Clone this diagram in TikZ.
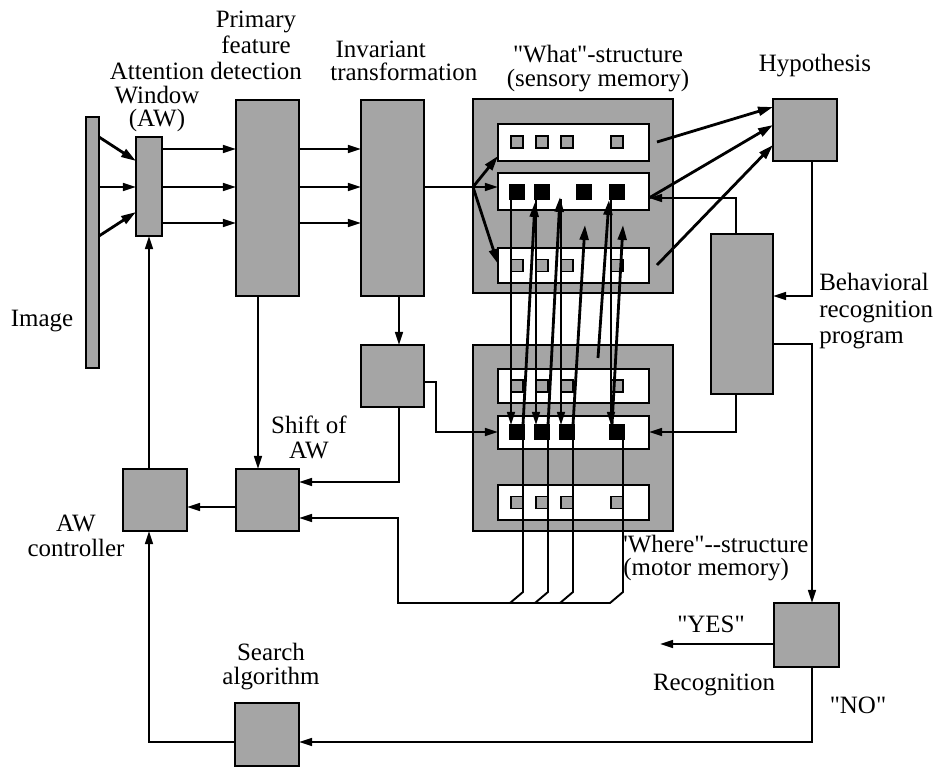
\documentclass[tikz,border=0pt]{standalone}
\usepackage{fontspec}
\setmainfont{Liberation Serif}
\usetikzlibrary{arrows.meta,calc}
\definecolor{dot}{RGB}{165,165,165}
\tikzset{
  bx/.style 2 args={draw, line width=1.1pt, inner sep=0pt, outer sep=0pt, minimum width=#1*0.02cm, minimum height=#2*0.02cm},
  gbox/.style={fill=dot},
  wbar/.style={fill=white},
  bsq/.style={draw, fill=black, line width=0.8pt, inner sep=0pt, outer sep=0pt, minimum size=14*0.02cm},
  gsq/.style={draw, fill=dot, line width=1.1pt, inner sep=0pt, outer sep=0pt, minimum size=12*0.02cm},
  arr/.style={line width=1.1pt, -{Triangle[length=7.5pt,width=4.5pt]}},
  tarr/.style={line width=1.6pt, -{Triangle[length=8.5pt,width=5pt]}},
  ln/.style={line width=1.1pt},
  lbl/.style={font=\fontsize{14.2}{16}\selectfont, inner sep=0pt, anchor=base},
  stk/.style={font=\fontsize{14.2}{#1}\selectfont, inner sep=0pt},
}
\begin{document}
\begin{tikzpicture}[x=0.02cm,y=-0.02cm]
\useasboundingbox (0,0) rectangle (938,767);

% boxes
\node[bx={13}{251},gbox] (img) at (92.5,242.5) {};
\node[bx={26}{99},gbox] (aw) at (149,186.5) {};
\node[bx={63}{196},gbox] (pfd) at (267.5,198) {};
\node[bx={63}{196},gbox] (it) at (392.5,198) {};
\node[bx={200}{194},gbox] (what) at (573,196) {};
\node[bx={151}{37},wbar] (wt1) at (573.5,142.5) {};
\node[bx={151}{37},wbar] (wt2) at (573.5,191.5) {};
\node[bx={151}{35},wbar] (wt3) at (573.5,265.5) {};
\node[bx={64}{62},gbox] (hyp) at (805,130) {};
\node[bx={62}{160},gbox] (beh) at (742,314) {};
\node[bx={63}{62},gbox] (inv) at (392.5,376) {};
\node[bx={200}{186},gbox] (where) at (573,438) {};
\node[bx={151}{34},wbar] (wh1) at (573.5,386) {};
\node[bx={151}{33},wbar] (wh2) at (573.5,432.5) {};
\node[bx={151}{35},wbar] (wh3) at (573.5,502.5) {};
\node[bx={63}{62},gbox] (shift) at (267.5,500) {};
\node[bx={64}{62},gbox] (awc) at (155,500) {};
\node[bx={65}{64},gbox] (rec) at (806.5,635) {};
\node[bx={64}{63},gbox] (search) at (267,734.5) {};

% small squares
\foreach \x [count=\i] in {517,542,567,617} {
  \node[gsq] (a\i) at (\x,142) {};
  \node[gsq] (c\i) at (\x,265.5) {};
  \node[gsq] (d\i) at (\x,386) {};
  \node[gsq] (f\i) at (\x,502.5) {};
  \node[bsq] (e\i) at (\x,432) {};
}
\foreach \x [count=\i] in {517,542,584,617} {
  \node[bsq] (b\i) at (\x,192) {};
}

% image -> AW
\draw[tarr] (img.east |- 0,137) -- (aw.west |- 0,161);
\draw[arr] (img.east |- 0,187) -- (aw.west |- 0,187);
\draw[tarr] (img.east |- 0,236) -- (aw.west |- 0,212);
% AW -> PFD -> IT
\foreach \y in {149,187,223} {
  \draw[arr] (aw.east |- 0,\y) -- (pfd.west |- 0,\y);
  \draw[arr] (pfd.east |- 0,\y) -- (it.west |- 0,\y);
}
% IT -> what
\draw[arr] (it.east |- 0,187) -- (wt2.west |- 0,187);
\coordinate (br) at (473,187);
\draw[tarr] (br) -- (wt1.west |- 0,156);
\draw[tarr] (br) -- (wt3.west |- 0,264);
% IT -> inv
\draw[arr] (it.south -| 399,0) -- (inv.north -| 399,0);
\draw[arr] (inv.east |- 0,382) -| (436,432) -- (wh2.west |- 0,432);
\draw[arr] (inv.south -| 399,0) |- (shift.east |- 0,482);
% PFD -> shift
\draw[arr] (pfd.south -| 258,0) -- (shift.north -| 258,0);
\draw[arr] (shift.west |- 0,507) -- (awc.east |- 0,507);
\draw[arr] (awc.north -| 149,0) -- (aw.south);
% bottom loop
\draw[arr] (rec.south -| 812,0) |- (search.east |- 0,742);
\draw[arr] (search.west |- 0,742) -| (awc.south -| 149,0);
\coordinate (yes) at (660,644);
\draw[arr] (rec.west |- 0,644) -- (yes);
% hypothesis / behavioral
\draw[arr] (hyp.south -| 812,0) |- (beh.east |- 0,296);
\draw[arr] (beh.east |- 0,344) -| (rec.north -| 812,0);
\draw[arr] (beh.north -| 736,0) |- (wt2.east |- 0,198);
\draw[arr] (beh.south -| 736,0) |- (wh2.east |- 0,432);
\draw[tarr] (657,142) -- (hyp.west |- 0,107);
\draw[tarr] (wt2.east |- 0,198) -- (hyp.west |- 0,125);
\draw[tarr] (657,265) -- (hyp.west |- 0,145);

% what -> where (down)
\foreach \x/\i in {511/1,536/2,561/3,611/4}
  \draw[arr] (\x,199) -- (e\i.north -| \x,0);
% where -> what (up)
\draw[tarr] (523,425) -- (535,202);
\draw[tarr] (548,425) -- (560,197);
\draw[tarr] (573,425) -- (585,225);
\draw[tarr] (598,358) -- (609,200);
\draw[tarr] (612,425) -- (623,225);
% bundle to shift
\draw[ln] (e1.south -| 523,0) -- (523,592) -- (510,603);
\draw[ln] (e2.south -| 548,0) -- (548,592) -- (535,603);
\draw[ln] (e3.south -| 573,0) -- (573,592) -- (560,603);
\draw[arr] (e4.south -| 623,0) -- (623,592) -- (610,603) -- (398,603) -- (398,518) -- (shift.east |- 0,518);

% labels
\node[lbl] (l1) at (42,327) {Image};
\node[stk=13.3pt, align=center, anchor=north] (l2) at (157,63) {Attention\\Window\\(AW)};
\node[stk=14.7pt, align=center, anchor=north] (l5) at (256,11) {Primary\\feature\\detection};
\node[stk=12.8pt, align=left, anchor=north west] (l8) at (330,41) {\hspace{3pt}Invariant\\transformation};
\node[stk=13.6pt, align=center, anchor=north] (l10) at (598,45) {\textquotedbl What\textquotedbl-structure\\(sensory memory)};
\node[lbl] (l12) at (815,72) {Hypothesis};
\node[stk=15pt, align=left, anchor=north west] (l13) at (819,273) {Behavioral\\recognition\\program};
\node[stk=14.2pt, align=center, anchor=north] (l16) at (309,416) {Shift of\\AW};
\node[stk=14.2pt, align=center, anchor=north] (l18) at (76,515) {AW\\controller};
\node[stk=13pt, align=left, anchor=north west] (l20) at (623,535) {\textquotesingle Where\textquotedbl{-}{-}structure\\(motor memory)};
\node[lbl] (l22) at (711,632) {\textquotedbl YES\textquotedbl};
\node[lbl] (l23) at (714,690) {Recognition};
\node[lbl] (l24) at (858,713) {\textquotedbl NO\textquotedbl};
\node[stk=13.6pt, align=center, anchor=north] (l25) at (271,643) {Search\\algorithm};
\end{tikzpicture}
\end{document}
